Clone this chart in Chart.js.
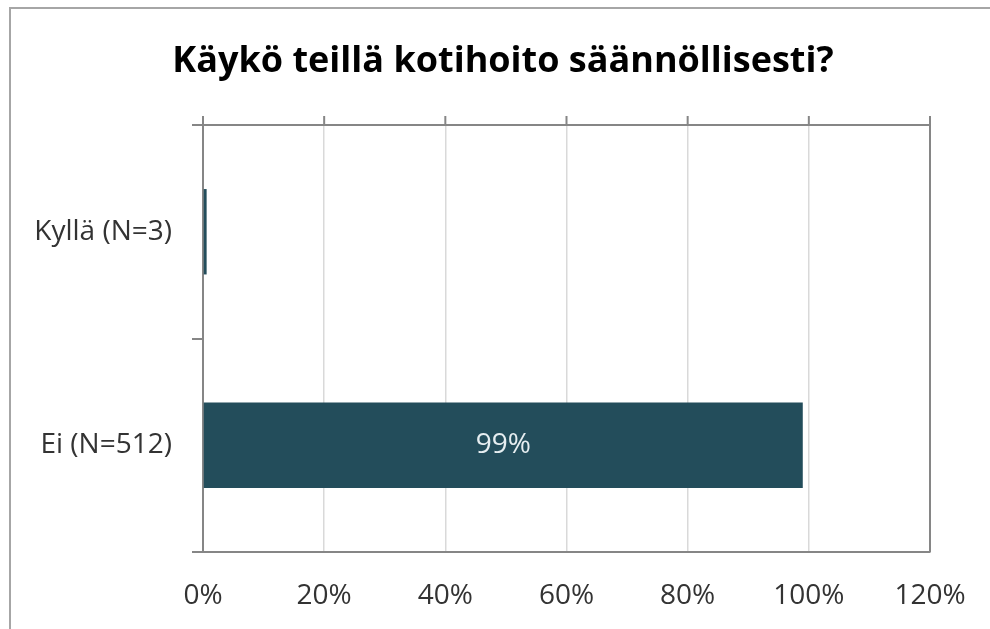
<!DOCTYPE html>
<html>
<head>
<meta charset="utf-8">
<script src="https://cdn.jsdelivr.net/npm/chart.js@4/dist/chart.umd.min.js"></script>
<style>
  html, body { margin: 0; padding: 0; background: #fff; }
  #wrap { position: relative; width: 990px; height: 629px; overflow: hidden; }
  #frame { position: absolute; left: 9px; top: 7px; width: 1010px; height: 700px; border: 2px solid #a6a6a6; box-sizing: border-box; }
  canvas { position: absolute; left: 0; top: 0; }
</style>
</head>
<body>
<div id="wrap">
  <div id="frame"></div>
  <canvas id="c" width="990" height="629"></canvas>
</div>
<script>
const titleText = 'Käykö teillä kotihoito säännöllisesti?';
const categories = ['Kyllä (N=3)', 'Ei (N=512)'];
const shares = [0.6, 99];
const valueLabels = [null, '99%'];
const xTicks = [0, 20, 40, 60, 80, 100, 120];

const FONT = "'Open Sans', 'Noto Sans', sans-serif";
const AXIS = '#868686';

const framePlugin = {
  id: 'framePlugin',
  afterDraw(chart) {
    const { ctx, chartArea: a, scales } = chart;
    const x = scales.x;
    ctx.save();
    ctx.strokeStyle = AXIS;
    ctx.lineWidth = 2;
    ctx.beginPath();
    ctx.moveTo(a.left, a.top);
    ctx.lineTo(a.right, a.top);
    ctx.lineTo(a.right, a.bottom);
    x.ticks.forEach(t => {
      const px = x.getPixelForValue(t.value);
      ctx.moveTo(px, a.top);
      ctx.lineTo(px, a.top - 9);
    });
    ctx.stroke();
    const meta = chart.getDatasetMeta(0);
    ctx.fillStyle = '#e6eef1';
    ctx.font = '28px ' + FONT;
    ctx.textAlign = 'center';
    ctx.textBaseline = 'middle';
    meta.data.forEach((bar, i) => {
      if (!valueLabels[i]) return;
      ctx.fillText(valueLabels[i], (bar.x + bar.base) / 2, bar.y);
    });
    ctx.restore();
  }
};

new Chart(document.getElementById('c'), {
  type: 'bar',
  data: {
    labels: categories,
    datasets: [{
      data: shares,
      backgroundColor: '#234d5b',
      borderWidth: 0,
      barPercentage: 0.4,
      categoryPercentage: 1
    }]
  },
  options: {
    indexAxis: 'y',
    responsive: false,
    animation: false,
    devicePixelRatio: 1,
    layout: { padding: { left: 16, right: 0, top: 0, bottom: 0 } },
    plugins: {
      legend: { display: false },
      tooltip: { enabled: false },
      title: {
        display: true,
        text: titleText,
        color: '#000',
        font: { family: FONT, size: 36, weight: 'bold', lineHeight: 1.2 },
        padding: { top: 39.8, bottom: 42 }
      }
    },
    scales: {
      x: {
        min: 0, max: 120,
        afterBuildTicks(scale) { scale.ticks = xTicks.map(v => ({ value: v })); },
        afterFit(scale) { scale.height = 77; scale.paddingRight = 60; },
        ticks: {
          callback: v => v + '%',
          color: '#333',
          font: { family: FONT, size: 28 },
          padding: 27,
          maxRotation: 0
        },
        grid: { color: '#d9d9d9', lineWidth: 1.5, drawTicks: false },
        border: { color: AXIS, width: 2 }
      },
      y: {
        afterFit(scale) { scale.width = 187; },
        ticks: {
          color: '#333',
          font: { family: FONT, size: 28 },
          padding: 20
        },
        grid: { drawOnChartArea: false, drawTicks: true, tickLength: 11, color: AXIS, lineWidth: 2, offset: true },
        border: { color: AXIS, width: 2 }
      }
    }
  },
  plugins: [framePlugin]
});
</script>
</body>
</html>
